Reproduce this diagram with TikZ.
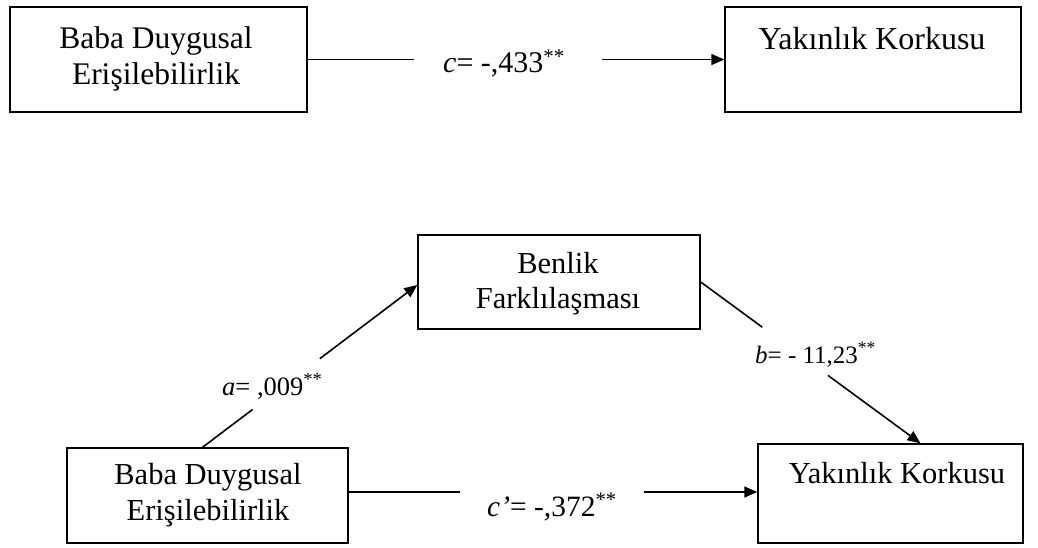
\documentclass[tikz,border=0pt]{standalone}
\usepackage{fontspec}
\setmainfont{Liberation Serif}
\usetikzlibrary{arrows.meta,calc}
\tikzset{
  box/.style={draw, line width=1.4pt, inner sep=0pt},
  boxtext/.style={align=center, anchor=base, inner sep=0pt},
  lbl/.style={anchor=base west, inner sep=0pt},
  conn/.style={line width=1.6pt},
  arr/.style={line width=1.6pt, -{Triangle[length=13pt,width=11pt]}}
}
\begin{document}
\begin{tikzpicture}[x=1pt,y=-1pt]
\useasboundingbox (0,0) rectangle (1038,548);
% boxes
\node[box, minimum width=297pt, minimum height=105pt] (tl) at (158.5,59.5) {};
\node[box, minimum width=296pt, minimum height=105pt] (tr) at (873,59.5) {};
\node[box, minimum width=282pt, minimum height=94pt] (mid) at (559,282) {};
\node[box, minimum width=281pt, minimum height=95pt] (bl) at (207.5,495.5) {};
\node[box, minimum width=265pt, minimum height=99pt] (br) at (890.5,493.5) {};
% box texts
\node[boxtext, font=\fontsize{31.5}{36}\selectfont] (tlt) at (156,85) {Baba Duygusal\\Erişilebilirlik};
\node[boxtext, font=\fontsize{32}{36}\selectfont] (trt) at (872,50) {Yakınlık Korkusu};
\node[boxtext, font=\fontsize{30.5}{35}\selectfont] (midt) at (558,308) {Benlik\\Farklılaşması};
\node[boxtext, font=\fontsize{30.5}{36}\selectfont] (blt) at (208,520) {Baba Duygusal\\Erişilebilirlik};
\node[boxtext, font=\fontsize{30.5}{36}\selectfont] (brt) at (897,483) {Yakınlık Korkusu};
% labels
\node[lbl, font=\fontsize{30}{34}\selectfont] (lc) at (443,73) {\textit{c}= -,433\textsuperscript{**}};
\node[lbl, font=\fontsize{26.5}{32}\selectfont] (la) at (222,395) {\textit{a}= ,009\textsuperscript{**}};
\node[lbl, font=\fontsize{25}{30}\selectfont] (lb) at (755,363) {\textit{b}= - 11,23\textsuperscript{**}};
\node[lbl, font=\fontsize{29.5}{34}\selectfont] (lcp) at (487,516) {\textit{c’}= -,372\textsuperscript{**}};
% connector c
\coordinate (c0) at (tl.east);
\coordinate (c3) at (tr.west);
\draw[conn] (c0) -- ($(c0)!0.254!(c3)$);
\draw[arr] ($(c0)!0.706!(c3)$) -- (c3);
% connector a
\coordinate (a0) at ($(bl.north)+(-5,0)$);
\coordinate (a3) at ($(mid.west)+(0,3)$);
\draw[conn] (a0) -- ($(a0)!0.233!(a3)$);
\draw[arr] ($(a0)!0.546!(a3)$) -- (a3);
% connector b
\coordinate (b0) at (mid.east);
\coordinate (b3) at ($(br.north)+(30,0)$);
\draw[conn] (b0) -- ($(b0)!0.28!(b3)$);
\draw[arr] ($(b0)!0.579!(b3)$) -- (b3);
% connector c'
\coordinate (p0) at ($(bl.east)+(0,-3.5)$);
\coordinate (p3) at (br.west |- p0);
\draw[conn] (p0) -- ($(p0)!0.273!(p3)$);
\draw[arr] ($(p0)!0.722!(p3)$) -- (p3);
\end{tikzpicture}
\end{document}
